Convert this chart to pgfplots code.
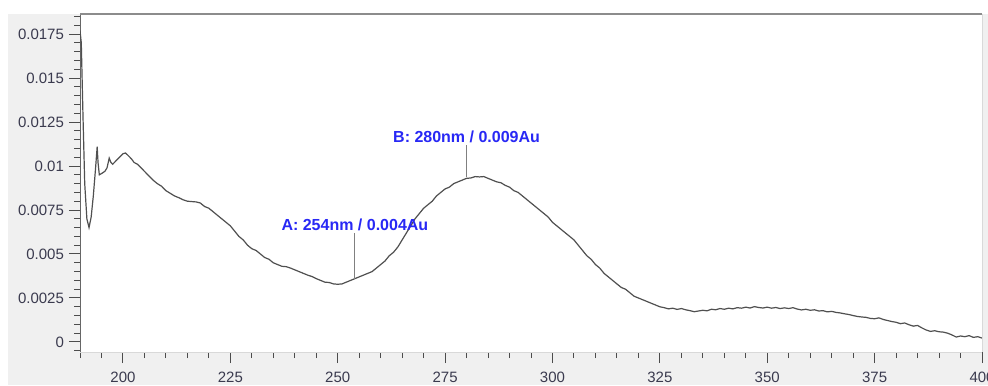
\documentclass[border=0pt]{standalone}
\usepackage{pgfplots}
\pgfplotsset{compat=1.18}
\usepackage{fontspec}
\setmainfont{Liberation Sans}
\definecolor{bggray}{RGB}{240,240,240}
\definecolor{ticklab}{RGB}{58,58,78}
\definecolor{annblue}{RGB}{40,40,245}
\definecolor{curve}{RGB}{80,80,80}
\begin{document}
\begin{tikzpicture}
\fill[bggray] (-36pt,-16.5pt) rectangle (454pt,169pt);
\begin{axis}[
  scale only axis,
  width=451pt, height=169pt,
  xmin=190, xmax=400,
  ymin=-0.00057, ymax=0.01864,
  axis background/.style={fill=white},
  axis x line*=bottom, axis y line*=left,
  x axis line style={draw=black!15, -},
  y axis line style={draw=black!60, -},
  tick align=outside,
  xtick={200,225,...,400},
  minor xtick={190,195,...,400},
  ytick={0,0.0025,0.005,0.0075,0.01,0.0125,0.015,0.0175},
  yticklabels={0,0.0025,0.005,0.0075,0.01,0.0125,0.015,0.0175},
  minor ytick={-0.0005,0.0005,0.001,0.0015,0.002,0.003,0.0035,0.004,0.0045,0.0055,0.006,0.0065,0.007,0.008,0.0085,0.009,0.0095,0.0105,0.011,0.0115,0.012,0.013,0.0135,0.014,0.0145,0.0155,0.016,0.0165,0.017,0.018,0.0185},
  major tick length=5.5pt,
  minor tick length=3pt,
  tick style={draw=black!70, line width=0.5pt},
  scaled y ticks=false,
  tick label style={font=\fontsize{7.5}{9}\selectfont, text=ticklab},
  /pgf/number format/assume math mode=true,
  xticklabel style={yshift=-1pt},
  yticklabel style={xshift=1pt},
  clip=true,
]
\addplot[curve, line width=0.6pt] coordinates {
(190,0.0177) (190.3,0.0170) (190.7,0.0128) (191.1,0.0090) (191.6,0.0070) (192.1,0.0065)
(192.6,0.0071) (193.1,0.0083) (193.6,0.0098) (194.0,0.0111) (194.2,0.0102) (194.5,0.0095)
(195.2,0.0096) (195.8,0.0097) (196.3,0.0099) (196.8,0.01045) (197.2,0.0102) (197.6,0.0101)
(198.4,0.0103) (199.2,0.0105) (200.0,0.0107) (200.6,0.01074) (201.2,0.0106) (202.0,0.0104)
(202.6,0.0102) (203.4,0.0101) (204.2,0.0099) (205,0.0097) (206,0.00945) (207,0.0092)
(208,0.0090) (209,0.00885) (210,0.0086) (211,0.00845) (212,0.0083) (213,0.0082)
(214,0.00808) (215,0.0080) (216,0.00798) (217,0.00796) (218,0.0079) (219,0.0077)
(220,0.0076) (221,0.0074) (222,0.0072) (223,0.0070) (224,0.0068) (225,0.0066)
(226,0.0063) (227,0.0060) (228,0.0058) (229,0.0055) (230,0.0053) (231,0.0052)
(232,0.0050) (233,0.0048) (234,0.0047) (235,0.0045) (236,0.0044) (237,0.0043)
(238,0.00428) (239,0.0042) (240,0.0041) (241,0.0040) (242,0.0039) (243,0.0038)
(244,0.00372) (245,0.0036) (246,0.0035) (247,0.0034) (248,0.00338) (249,0.0033)
(250,0.00328) (251,0.0033) (252,0.0034) (253,0.0035) (254,0.0036) (255,0.0037)
(256,0.0038) (257,0.0039) (258,0.0040) (259,0.0042) (260,0.0044) (261,0.0046)
(262,0.0049) (263,0.0051) (264,0.0054) (265,0.0058) (266,0.0062) (267,0.0066)
(268,0.0070) (269,0.0073) (270,0.0076) (271,0.0078) (272,0.0080) (273,0.0083)
(274,0.0085) (275,0.0087) (276,0.0088) (277,0.0090) (278,0.0091) (279,0.0092)
(280,0.0093) (281,0.00932) (282,0.0094) (283,0.00938) (284,0.0094) (285,0.0093)
(286,0.0092) (287,0.0091) (288,0.00905) (289,0.0089) (290,0.0088) (291,0.0086)
(292,0.0085) (293,0.0083) (294,0.0081) (295,0.0079) (296,0.0077) (297,0.0075)
(298,0.0073) (299,0.0071) (300,0.0068) (301,0.0066) (302,0.0064) (303,0.0062)
(304,0.0060) (305,0.0058) (306,0.0055) (307,0.0052) (308,0.0049) (309,0.0047)
(310,0.0044) (311,0.0042) (312,0.0039) (313,0.0037) (314,0.0035) (315,0.0033)
(316,0.0031) (317,0.0030) (318,0.0028) (319,0.0026) (320,0.0025) (321,0.0024)
(322,0.0023) (323,0.0022) (324,0.0021) (325,0.0020)
(326,0.00195) (327,0.00188) (328,0.00192) (329,0.00185) (330,0.00190) (331,0.00183)
(332,0.00178) (333,0.00172) (334,0.00176) (335,0.00180) (336,0.00177) (337,0.00186)
(338,0.00183) (339,0.00190) (340,0.00186) (341,0.00192) (342,0.00188) (343,0.00195)
(344,0.00192) (345,0.00198) (346,0.00193) (347,0.00201) (348,0.00196) (349,0.00193)
(350,0.00198) (351,0.00192) (352,0.00196) (353,0.00190) (354,0.00194) (355,0.00190)
(356,0.00195) (357,0.00187) (358,0.00182) (359,0.00186) (360,0.00180) (361,0.00183)
(362,0.00176) (363,0.00178) (364,0.00171) (365,0.00174) (366,0.00168) (367,0.00165)
(368,0.00160) (369,0.00156) (370,0.00150) (371,0.00145) (372,0.00142) (373,0.00140)
(374,0.00134) (375,0.00132) (376,0.00137) (377,0.00128) (378,0.00122) (379,0.00116)
(380,0.00112) (381,0.00104) (382,0.00108) (383,0.00098) (384,0.00090) (385,0.00094)
(386,0.00080) (387,0.00068) (388,0.00060) (389,0.00064) (390,0.00058) (391,0.00056)
(392,0.00050) (393,0.00040) (394,0.00028) (395,0.00034) (396,0.00030) (397,0.00036)
(398,0.00026) (399,0.00030) (400,0.00022)
};
\draw[black!50, line width=0.5pt] (axis cs:254,0.0036) -- (axis cs:254,0.0062);
\draw[black!50, line width=0.5pt] (axis cs:280,0.00935) -- (axis cs:280,0.0112);
\node[font=\bfseries\fontsize{8}{9}\selectfont, text=annblue, anchor=south, inner sep=1pt] at (axis cs:254,0.0062) {A: 254nm / 0.004Au};
\node[font=\bfseries\fontsize{8}{9}\selectfont, text=annblue, anchor=south, inner sep=1pt] at (axis cs:280,0.0112) {B: 280nm / 0.009Au};
\end{axis}
\draw[black!45, line width=1pt] (0pt,169pt) -- (451pt,169pt);
\draw[black!15, line width=0.5pt] (451pt,0pt) -- (451pt,169pt);
\pgfresetboundingbox
\useasboundingbox (-40pt,-16.5pt) rectangle (454pt,176pt);
\end{tikzpicture}
\end{document}
